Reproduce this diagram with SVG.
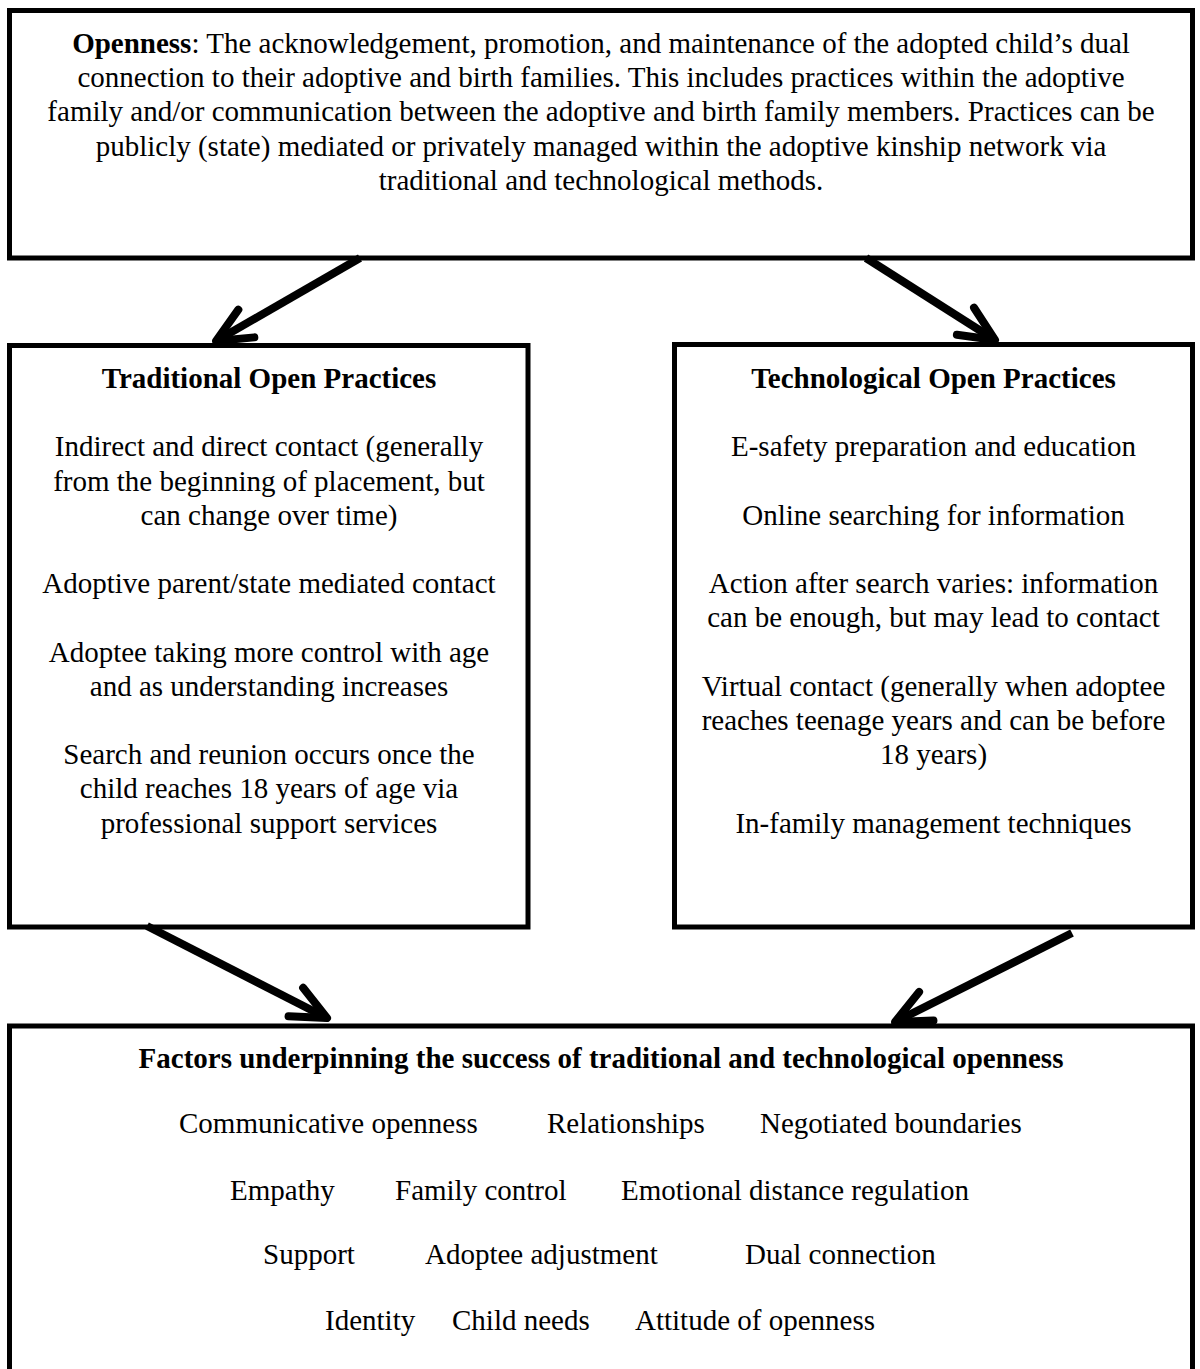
<svg xmlns="http://www.w3.org/2000/svg" width="1200" height="1369" viewBox="0 0 1200 1369">
<defs>
<style>
.box{fill:#fff;stroke:#000;stroke-width:5}
text{font-family:"Liberation Serif","Times New Roman",serif;font-size:29px;fill:#000}
.c{text-anchor:middle}
.b{font-weight:bold}
.conn{stroke:#000;stroke-width:8;fill:none}
</style>
<marker id="ah" markerUnits="userSpaceOnUse" markerWidth="80" markerHeight="80" viewBox="-50 -40 80 80" refX="0" refY="0" orient="auto" overflow="visible">
<path d="M-35,-16 L0,0 L-35,16" fill="none" stroke="#000" stroke-width="8" stroke-linecap="round" stroke-linejoin="round"/>
</marker>
</defs>
<rect width="1200" height="1369" fill="#fff"/>

<g id="openness">
<rect class="box" x="9.5" y="10.5" width="1183" height="247.5"/>
<text class="c" x="601" y="53"><tspan class="b">Openness</tspan>: The acknowledgement, promotion, and maintenance of the adopted child’s dual</text>
<text class="c" x="601" y="87">connection to their adoptive and birth families. This includes practices within the adoptive</text>
<text class="c" x="601" y="121">family and/or communication between the adoptive and birth family members. Practices can be</text>
<text class="c" x="601" y="156">publicly (state) mediated or privately managed within the adoptive kinship network via</text>
<text class="c" x="601" y="190">traditional and technological methods.</text>
</g>

<g id="traditional">
<rect class="box" x="9.5" y="345.5" width="518.5" height="581.5"/>
<text class="c b" x="269" y="388">Traditional Open Practices</text>
<text class="c" x="269" y="456">Indirect and direct contact (generally</text>
<text class="c" x="269" y="491">from the beginning of placement, but</text>
<text class="c" x="269" y="525">can change over time)</text>
<text class="c" x="269" y="593">Adoptive parent/state mediated contact</text>
<text class="c" x="269" y="662">Adoptee taking more control with age</text>
<text class="c" x="269" y="696">and as understanding increases</text>
<text class="c" x="269" y="764">Search and reunion occurs once the</text>
<text class="c" x="269" y="798">child reaches 18 years of age via</text>
<text class="c" x="269" y="833">professional support services</text>
</g>

<g id="technological">
<rect class="box" x="674.5" y="344.5" width="518" height="582.5"/>
<text class="c b" x="933.5" y="388">Technological Open Practices</text>
<text class="c" x="933.5" y="456">E-safety preparation and education</text>
<text class="c" x="933.5" y="525">Online searching for information</text>
<text class="c" x="933.5" y="593">Action after search varies: information</text>
<text class="c" x="933.5" y="627">can be enough, but may lead to contact</text>
<text class="c" x="933.5" y="696">Virtual contact (generally when adoptee</text>
<text class="c" x="933.5" y="730">reaches teenage years and can be before</text>
<text class="c" x="933.5" y="764">18 years)</text>
<text class="c" x="933.5" y="833">In-family management techniques</text>
</g>

<g id="factors">
<rect class="box" x="9.5" y="1026" width="1183" height="400"/>
<text class="c b" x="601" y="1068">Factors underpinning the success of traditional and technological openness</text>
<text x="179" y="1133">Communicative openness</text>
<text x="547" y="1133">Relationships</text>
<text x="760" y="1133">Negotiated boundaries</text>
<text x="230" y="1200">Empathy</text>
<text x="395" y="1200">Family control</text>
<text x="621" y="1200">Emotional distance regulation</text>
<text x="263" y="1264">Support</text>
<text x="425" y="1264">Adoptee adjustment</text>
<text x="745" y="1264">Dual connection</text>
<text x="325" y="1330">Identity</text>
<text x="452" y="1330">Child needs</text>
<text x="635" y="1330">Attitude of openness</text>
</g>

<g id="connectors">
<line class="conn" x1="360" y1="258" x2="216" y2="341" marker-end="url(#ah)"/>
<line class="conn" x1="866" y1="258" x2="995" y2="340" marker-end="url(#ah)"/>
<line class="conn" x1="147" y1="926" x2="327" y2="1018" marker-end="url(#ah)"/>
<line class="conn" x1="1072" y1="933" x2="895" y2="1022" marker-end="url(#ah)"/>
</g>
</svg>
